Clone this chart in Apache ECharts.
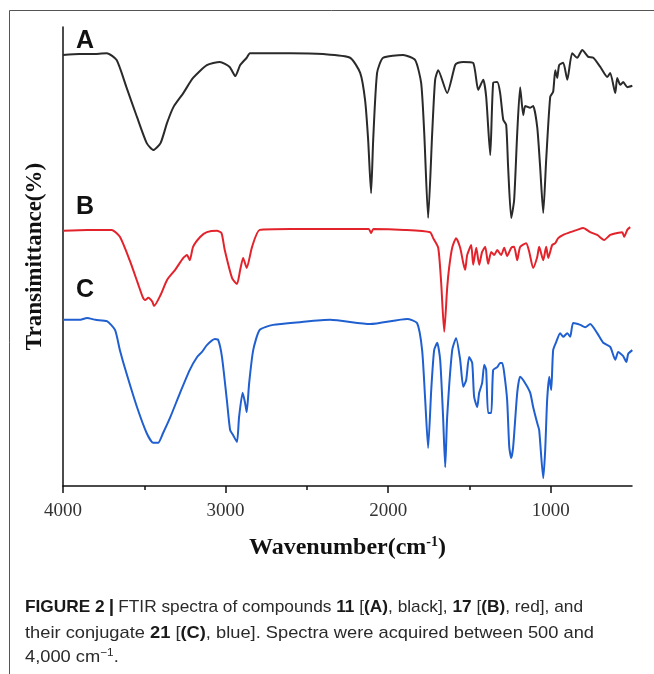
<!DOCTYPE html>
<html>
<head>
<meta charset="utf-8">
<script src="https://cdn.jsdelivr.net/npm/echarts@6/dist/echarts.min.js"></script>
<style>
html,body{margin:0;padding:0;background:#fff;}
#chart{width:654px;height:674px;}
</style>
</head>
<body>
<div id="chart"></div>
<script>
// ---- data (wavenumber in cm-1, transmittance in % offset units) ----
var waveA = [4000,3900,3800,3730,3670,3610,3545,3485,3445,3400,3360,3320,3260,3200,3115,3035,2975,2940,2910,2870,2850,2600,2400,2234,2172,2142,2123,2105,2092,2068,2031,1908,1834,1797,1778,1754,1729,1711,1692,1637,1588,1569,1538,1477,1446,1415,1397,1372,1354,1329,1311,1292,1274,1262,1243,1225,1206,1188,1169,1157,1126,1108,1083,1065,1046,1028,1003,985,972,960,948,923,898,868,837,806,769,738,695,652,634,603,591,572,554,529,498];
var transA = [93.9,94.1,94.1,94.3,92.8,86.9,80.4,74.7,73.2,74.7,79.1,82.6,85.6,88.9,91.7,92.4,91.3,89.3,91.7,93.3,94.3,94.3,94.1,93.3,90.0,84.1,75.4,63.8,75.4,90.0,93.3,93.9,92.8,87.8,76.9,58.4,76.9,88.5,90.6,85.6,91.7,92.2,92.4,92.2,86.3,88.5,84.8,72.1,87.8,88.0,85.6,79.8,78.7,69.5,58.4,62.3,76.9,86.9,80.8,82.8,82.4,82.8,78.2,69.5,59.5,71.0,84.8,85.9,90.6,88.9,91.7,92.2,88.5,94.3,93.3,95.0,93.5,93.3,91.3,89.1,90.0,85.6,88.9,87.4,88.0,86.9,87.2];

var waveB = [4000,3850,3700,3650,3590,3540,3510,3495,3475,3450,3440,3400,3360,3310,3260,3237,3220,3200,3155,3115,3053,3025,3005,2960,2930,2910,2892,2870,2837,2790,2600,2300,2120,2105,2090,1900,1742,1723,1692,1674,1655,1637,1625,1606,1582,1557,1538,1526,1514,1489,1477,1458,1440,1422,1403,1385,1366,1348,1329,1305,1286,1268,1243,1225,1206,1188,1151,1132,1108,1083,1071,1046,1028,1015,991,972,954,923,880,837,800,757,714,671,634,591,560,548,529,511];
var transB = [55.6,55.8,55.8,54.3,49.2,44.2,41.2,40.5,41.0,40.1,39.2,41.6,44.9,47.1,49.7,50.3,49.2,52.1,54.3,55.3,55.6,55.1,51.4,45.3,44.0,47.1,49.7,47.5,52.1,55.8,56.0,56.0,56.0,55.1,56.0,55.8,55.3,54.0,51.9,44.4,33.6,43.1,47.5,51.9,54.0,51.9,48.6,47.1,50.3,52.5,48.2,51.9,48.2,51.0,52.1,48.4,51.0,50.3,51.4,50.3,51.9,50.1,51.9,52.1,49.2,52.1,52.9,51.0,47.5,49.9,52.1,49.2,52.1,49.7,52.5,52.9,54.0,54.7,55.3,55.8,56.2,55.3,54.7,53.6,54.7,55.1,55.3,54.3,55.8,56.4];

var waveC = [4000,3900,3852,3800,3730,3680,3650,3610,3545,3485,3445,3415,3385,3340,3280,3220,3175,3145,3115,3065,3045,3022,2992,2972,2954,2930,2917,2895,2880,2870,2855,2830,2790,2708,2542,2357,2111,1883,1822,1791,1772,1754,1735,1717,1698,1680,1662,1649,1637,1606,1582,1557,1538,1520,1502,1483,1471,1452,1440,1422,1409,1397,1385,1366,1354,1329,1311,1298,1286,1268,1255,1243,1231,1206,1188,1157,1126,1108,1083,1071,1046,1034,1022,1009,997,985,966,942,923,898,880,862,818,788,757,714,677,634,603,585,554,535,523,498];
var transC = [36.2,36.2,36.6,36.2,35.9,34.0,29.6,24.6,17.2,11.5,9.4,9.4,11.5,15.0,20.3,25.3,28.1,29.2,30.7,32.0,31.8,28.1,18.7,12.2,11.1,9.6,15.0,20.3,18.1,16.1,22.4,29.6,34.0,35.1,35.7,36.2,35.3,36.4,35.5,29.6,18.7,8.3,20.9,29.6,31.2,27.5,15.0,4.1,15.0,29.6,32.2,27.5,21.6,23.1,28.1,26.8,19.4,17.2,20.3,22.4,26.4,25.3,15.9,15.9,25.3,25.9,26.8,26.8,24.6,18.7,8.5,6.1,8.5,20.3,23.8,22.4,20.3,17.2,13.7,12.2,1.7,7.8,18.7,23.8,20.9,29.6,31.4,33.3,32.5,33.3,32.5,35.5,35.1,34.6,35.3,33.3,31.2,30.3,27.5,29.2,28.3,27.0,28.8,29.6];

var xMinorTicks = [3500,2500,1500];
var xMajorTicks = [4000,3000,2000,1000];
var xLabels = [4000,3000,2000,1000];
var seriesLabels = ['A','B','C'];
// caption segments: [style, text]
var caption1 = [['b','FIGURE 2'],['bar','|'],['n','FTIR spectra of compounds '],['b','11'],['n',' ['],['b','(A)'],['n',', black], '],['b','17'],['n',' ['],['b','(B)'],['n',', red], and']];
var caption2 = [['n','their conjugate '],['b','21'],['n',' ['],['b','(C)'],['n',', blue]. Spectra were acquired between 500 and']];
var caption3 = [['n','4,000 cm'],['s','−1'],['n','.']];

function zip(w, t){ return w.map(function(v,i){ return [v, t[i]]; }); }

var serif = '"Liberation Serif","Times New Roman",serif';
var sans = '"Liberation Sans",Arial,sans-serif';
var capFonts = {
  b: 'bold 17px ' + sans,
  bar: 'bold 19px ' + sans,
  n: '17px ' + sans,
  s: '11px ' + sans
};
var capPad = {bar:4};
var ctx = document.createElement('canvas').getContext('2d');
function segWidth(segs){
  var w = 0;
  segs.forEach(function(s){ ctx.font = capFonts[s[0]]; w += ctx.measureText(s[1]).width + 2 * (capPad[s[0]] || 0); });
  return w;
}
function richText(segs){
  return segs.map(function(s){ return '{' + s[0] + '|' + s[1] + '}'; }).join('');
}
var richStyles = {
  b:{font:capFonts.b, fill:'#1a1a1a'},
  bar:{font:capFonts.bar, fill:'#1a1a1a', padding:[0,capPad.bar,0,capPad.bar]},
  n:{font:capFonts.n, fill:'#2a2a2a'},
  s:{font:capFonts.s, fill:'#2a2a2a', verticalAlign:'top', padding:[0,0,9,0]}
};
var sx1 = 558 / segWidth(caption1);
var sx2 = 569 / segWidth(caption2);

var chart = echarts.init(document.getElementById('chart'), null, {renderer:'canvas'});

var option = {
  backgroundColor:'#fff',
  animation:false,
  grid:{left:63, top:27, width:569, height:459},
  xAxis:[{
    type:'value', inverse:true, min:500, max:4000, interval:500,
    name:'Wavenumber(cm{sup|-1})', nameLocation:'middle', nameGap:49,
    nameTextStyle:{fontFamily:serif, fontWeight:'bold', fontSize:24, color:'#111',
      rich:{sup:{fontFamily:serif, fontWeight:'bold', fontSize:14, color:'#111', verticalAlign:'top', padding:[0,0,11,0]}}},
    axisLine:{lineStyle:{color:'#111', width:1.5}},
    axisTick:{show:true, inside:false, length:4, lineStyle:{color:'#111', width:1.5}, customValues:xMinorTicks},
    axisLabel:{fontFamily:serif, fontSize:19, color:'#333', margin:16, customValues:xLabels,
      formatter:function(v){ return String(v); }},
    splitLine:{show:false}
  },{
    type:'value', inverse:true, min:500, max:4000, interval:500, position:'bottom',
    axisLine:{show:false},
    axisTick:{show:true, inside:false, length:7, lineStyle:{color:'#111', width:1.5}, customValues:xMajorTicks},
    axisLabel:{show:false}, splitLine:{show:false}
  }],
  yAxis:{
    type:'value', min:0, max:100,
    name:'Transimittance(%)', nameLocation:'middle', nameGap:16, nameRotate:90,
    nameTextStyle:{fontFamily:serif, fontWeight:'bold', fontSize:23, color:'#111'},
    axisLine:{show:true, lineStyle:{color:'#111', width:1.5}},
    axisTick:{show:false}, axisLabel:{show:false}, splitLine:{show:false}
  },
  series:[
    {name:'A', type:'line', xAxisIndex:0, data:zip(waveA,transA), showSymbol:false, smooth:0.2, lineStyle:{color:'#2a2a2a', width:2}},
    {name:'B', type:'line', xAxisIndex:0, data:zip(waveB,transB), showSymbol:false, smooth:0.2, lineStyle:{color:'#e3232b', width:2}},
    {name:'C', type:'line', xAxisIndex:0, data:zip(waveC,transC), showSymbol:false, smooth:0.2, lineStyle:{color:'#1f5fcf', width:2}}
  ],
  graphic:[
    {type:'line', shape:{x1:9.5,y1:10.5,x2:654,y2:10.5}, style:{stroke:'#555', lineWidth:1}},
    {type:'line', shape:{x1:9.5,y1:10.5,x2:9.5,y2:674}, style:{stroke:'#555', lineWidth:1}},
    {type:'text', left:76, top:29, style:{text:seriesLabels[0], font:'bold 25px '+sans, fill:'#111'}},
    {type:'text', left:76, top:195, style:{text:seriesLabels[1], font:'bold 25px '+sans, fill:'#111'}},
    {type:'text', left:76, top:278, style:{text:seriesLabels[2], font:'bold 25px '+sans, fill:'#111'}},
    {type:'text', x:25, y:607, scaleX:sx1, style:{text:richText(caption1), verticalAlign:'middle', rich:richStyles}},
    {type:'text', x:25, y:633, scaleX:sx2, style:{text:richText(caption2), verticalAlign:'middle', rich:richStyles}},
    {type:'text', x:25, y:657, scaleX:sx2, style:{text:richText(caption3), verticalAlign:'middle', rich:richStyles}}
  ]
};
chart.setOption(option);
</script>
</body>
</html>
